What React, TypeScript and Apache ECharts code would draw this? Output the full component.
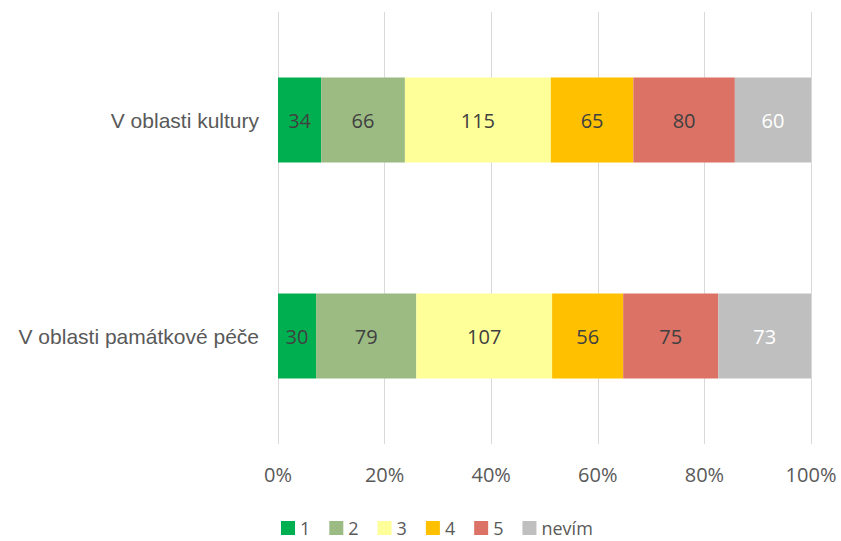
import React, { useEffect, useRef } from "react";
import * as echarts from "echarts";

const categories = ["V oblasti kultury", "V oblasti památkové péče"];
const seriesNames = ["1", "2", "3", "4", "5", "nevím"];
const values1 = [34, 30];
const values2 = [66, 79];
const values3 = [115, 107];
const values4 = [65, 56];
const values5 = [80, 75];
const valuesNevim = [60, 73];
const colors = ["#00B050", "#9BBB83", "#FFFF99", "#FFC000", "#DB7265", "#BFBFBF"];
const tickLabels = ["0%", "20%", "40%", "60%", "80%", "100%"];

export default function App() {
  const ref = useRef<HTMLDivElement>(null);
  useEffect(() => {
    if (!ref.current) return;
    const chart = echarts.init(ref.current, null, { renderer: "svg" });
    const all = [values1, values2, values3, values4, values5, valuesNevim];
    const totals = categories.map((_, i) => all.reduce((s, arr) => s + arr[i], 0));
    const font = "'Liberation Sans', Arial, sans-serif";
    const numFont = "'Open Sans', 'Noto Sans', sans-serif";
    chart.setOption({
      animation: false,
      backgroundColor: "#ffffff",
      grid: { left: 278, right: 30, top: 12, bottom: 97, containLabel: false },
      legend: {
        top: 513,
        left: 276,
        padding: [5, 5, 0, 5],
        itemWidth: 14,
        itemHeight: 14,
        itemGap: 19,
        icon: "rect",
        textStyle: { color: "#595959", fontSize: 18, lineHeight: 20, fontFamily: numFont },
        data: seriesNames,
      },
      xAxis: {
        type: "value",
        min: 0,
        max: 1,
        interval: 0.2,
        axisLine: { show: false },
        axisTick: { show: false },
        splitLine: { show: true, lineStyle: { color: "#D9D9D9", width: 1 } },
        axisLabel: {
          color: "#595959",
          fontSize: 20,
          fontFamily: numFont,
          margin: 20,
          formatter: (v: number) => tickLabels[Math.round(v * 5)] ?? "",
        },
      },
      yAxis: {
        type: "category",
        data: categories,
        inverse: true,
        axisLine: { show: false },
        axisTick: { show: false },
        axisLabel: { color: "#595959", fontSize: 21, fontFamily: font, margin: 19 },
      },
      series: seriesNames.map((name, si) => ({
        name,
        type: "bar",
        stack: "total",
        barWidth: 85,
        itemStyle: { color: colors[si] },
        label: {
          show: true,
          position: "inside",
          color: si === 5 ? "#FFFFFF" : "#404040",
          fontSize: 20,
          fontFamily: numFont,
          formatter: (p: any) => String(all[si][p.dataIndex]),
        },
        data: all[si].map((v, i) => v / totals[i]),
      })),
    });
    return () => chart.dispose();
  }, []);
  return (
    <div
      ref={ref}
      style={{ position: "fixed", left: 0, top: 0, width: 841, height: 541 }}
    />
  );
}
